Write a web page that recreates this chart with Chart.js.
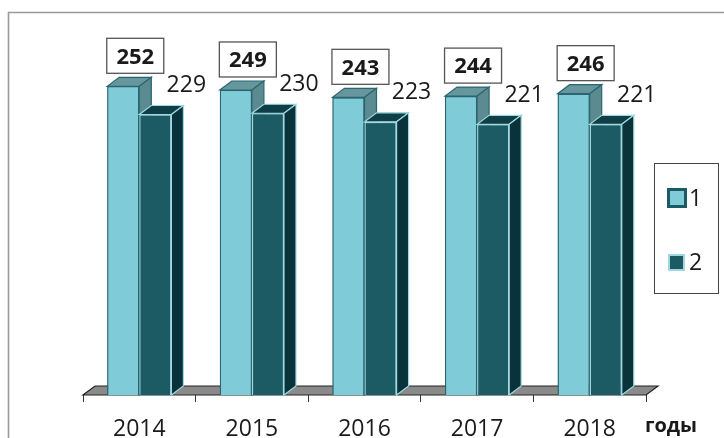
<!DOCTYPE html>
<html>
<head>
<meta charset="utf-8">
<script src="https://cdn.jsdelivr.net/npm/chart.js@4.4.1/dist/chart.umd.min.js"></script>
<style>
  html, body { margin: 0; padding: 0; background: #fff; }
  #wrap { width: 724px; height: 438px; position: relative; }
</style>
</head>
<body>
<div id="wrap"><canvas id="myChart" width="724" height="438"></canvas></div>
<script>
const years = ['2014', '2015', '2016', '2017', '2018'];
const series1 = [252, 249, 243, 244, 246];
const series2 = [229, 230, 223, 221, 221];
const seriesNames = ['1', '2'];
const axisTitle = 'годы';

const FONT = '"Open Sans", "DejaVu Sans", sans-serif';
const DX = 12, DY = -9;   // depth of the fake 3d

const look = [
  { front: '#80cbd8', top: '#66979e', side: '#5b8a90', edge: '#2a6670' },
  { front: '#1d5b64', top: '#0f3e46', side: '#0a323a', edge: '#9ed8e0' }
];

function shade(ctx, pts, fill, edge) {
  ctx.beginPath();
  ctx.moveTo(pts[0][0], pts[0][1]);
  for (let i = 1; i < pts.length; i++) ctx.lineTo(pts[i][0], pts[i][1]);
  ctx.closePath();
  ctx.fillStyle = fill;
  ctx.fill();
  ctx.strokeStyle = edge;
  ctx.lineWidth = 1.2;
  ctx.stroke();
}

function box3d(ctx, el, c) {
  const l = el.x - el.width / 2, r = el.x + el.width / 2;
  const t = el.y, b = el.base;
  // top
  shade(ctx, [[l, t], [r, t], [r + DX, t + DY], [l + DX, t + DY]], c.top, c.edge);
  // side
  shade(ctx, [[r, t], [r + DX, t + DY], [r + DX, b + DY], [r, b]], c.side, c.edge);
}

const bars3d = {
  id: 'bars3d',
  beforeDatasetsDraw(chart) {
    const ctx = chart.ctx, a = chart.chartArea;
    ctx.save();
    // floor
    const y0 = a.bottom;
    shade(ctx, [[a.left, y0], [a.right, y0], [a.right + DX, y0 - 9], [a.left + DX, y0 - 9]], '#8a8a8a', '#222');
    ctx.restore();
  },
  afterDatasetsDraw(chart) {
    const ctx = chart.ctx;
    const m0 = chart.getDatasetMeta(0), m1 = chart.getDatasetMeta(1);
    ctx.save();
    for (let i = 0; i < years.length; i++) {
      m0.data[i].draw(ctx);
      box3d(ctx, m0.data[i], look[0]);
      m1.data[i].draw(ctx);
      box3d(ctx, m1.data[i], look[1]);
    }
    // value labels
    ctx.textAlign = 'center';
    ctx.textBaseline = 'middle';
    for (let i = 0; i < years.length; i++) {
      const e = m0.data[i];
      const cx = e.x + 12, cy = e.y - 30;
      ctx.fillStyle = '#fff';
      ctx.fillRect(cx - 28.5, cy - 18, 57, 35);
      ctx.strokeStyle = '#555';
      ctx.lineWidth = 1.3;
      ctx.strokeRect(cx - 28.5, cy - 18, 57, 35);
      ctx.fillStyle = '#1a1a1a';
      ctx.font = 'bold 22px ' + FONT;
      ctx.fillText(String(series1[i]), cx, cy + 1);

      const f = m1.data[i];
      ctx.font = '23px ' + FONT;
      ctx.fillText(String(series2[i]), f.x + 31, f.y - 29);
    }
    ctx.restore();
  },
  afterDraw(chart) {
    const ctx = chart.ctx;
    ctx.save();
    // outer frame (only left and top visible)
    ctx.strokeStyle = '#9a9a9a';
    ctx.lineWidth = 1.6;
    ctx.beginPath();
    ctx.moveTo(8.5, 440);
    ctx.lineTo(8.5, 12.5);
    ctx.lineTo(726, 12.5);
    ctx.stroke();

    // legend
    ctx.fillStyle = '#fff';
    ctx.fillRect(654.5, 163.5, 64, 130);
    ctx.strokeStyle = '#444';
    ctx.lineWidth = 1;
    ctx.strokeRect(654.5, 163.5, 64, 130);
    // marker 1
    ctx.fillStyle = '#1d5b64';
    ctx.fillRect(667, 188, 20, 20);
    ctx.fillStyle = look[0].front;
    ctx.fillRect(670, 191, 14, 14);
    // marker 2
    ctx.fillStyle = look[1].edge;
    ctx.fillRect(668, 254, 17, 17);
    ctx.fillStyle = look[1].front;
    ctx.fillRect(670, 256, 13, 13);
    ctx.fillStyle = '#1a1a1a';
    ctx.font = '23px ' + FONT;
    ctx.textAlign = 'left';
    ctx.textBaseline = 'middle';
    ctx.fillText(seriesNames[0], 689, 199);
    ctx.fillText(seriesNames[1], 689, 263);

    // axis title
    ctx.font = 'bold 20px ' + FONT;
    ctx.textAlign = 'center';
    ctx.fillText(axisTitle, 671, 426);
    ctx.restore();
  }
};

const ctx = document.getElementById('myChart');
const myChart = new Chart(ctx, {
  type: 'bar',
  data: {
    labels: years,
    datasets: [
      {
        label: seriesNames[0],
        data: series1,
        backgroundColor: look[0].front,
        borderColor: look[0].edge,
        borderWidth: 1.3
      },
      {
        label: seriesNames[1],
        data: series2,
        backgroundColor: look[1].front,
        borderColor: look[1].edge,
        borderWidth: 1.3
      }
    ]
  },
  options: {
    responsive: false,
    animation: false,
    events: [],
    categoryPercentage: 0.57,
    barPercentage: 1,
    layout: { padding: { left: 83, right: 78, top: 52, bottom: 0 } },
    plugins: {
      legend: { display: false },
      tooltip: { enabled: false }
    },
    scales: {
      x: {
        grid: {
          offset: true,
          drawOnChartArea: false,
          drawTicks: true,
          tickLength: 7,
          color: '#333',
          lineWidth: 1
        },
        border: { display: false },
        ticks: {
          color: '#1a1a1a',
          padding: 16,
          font: { family: FONT, size: 23, lineHeight: 1 }
        },
        afterFit(scale) { scale.height = 43; }
      },
      y: {
        display: false,
        min: 0,
        max: 280
      }
    }
  },
  plugins: [bars3d]
});
</script>
</body>
</html>
